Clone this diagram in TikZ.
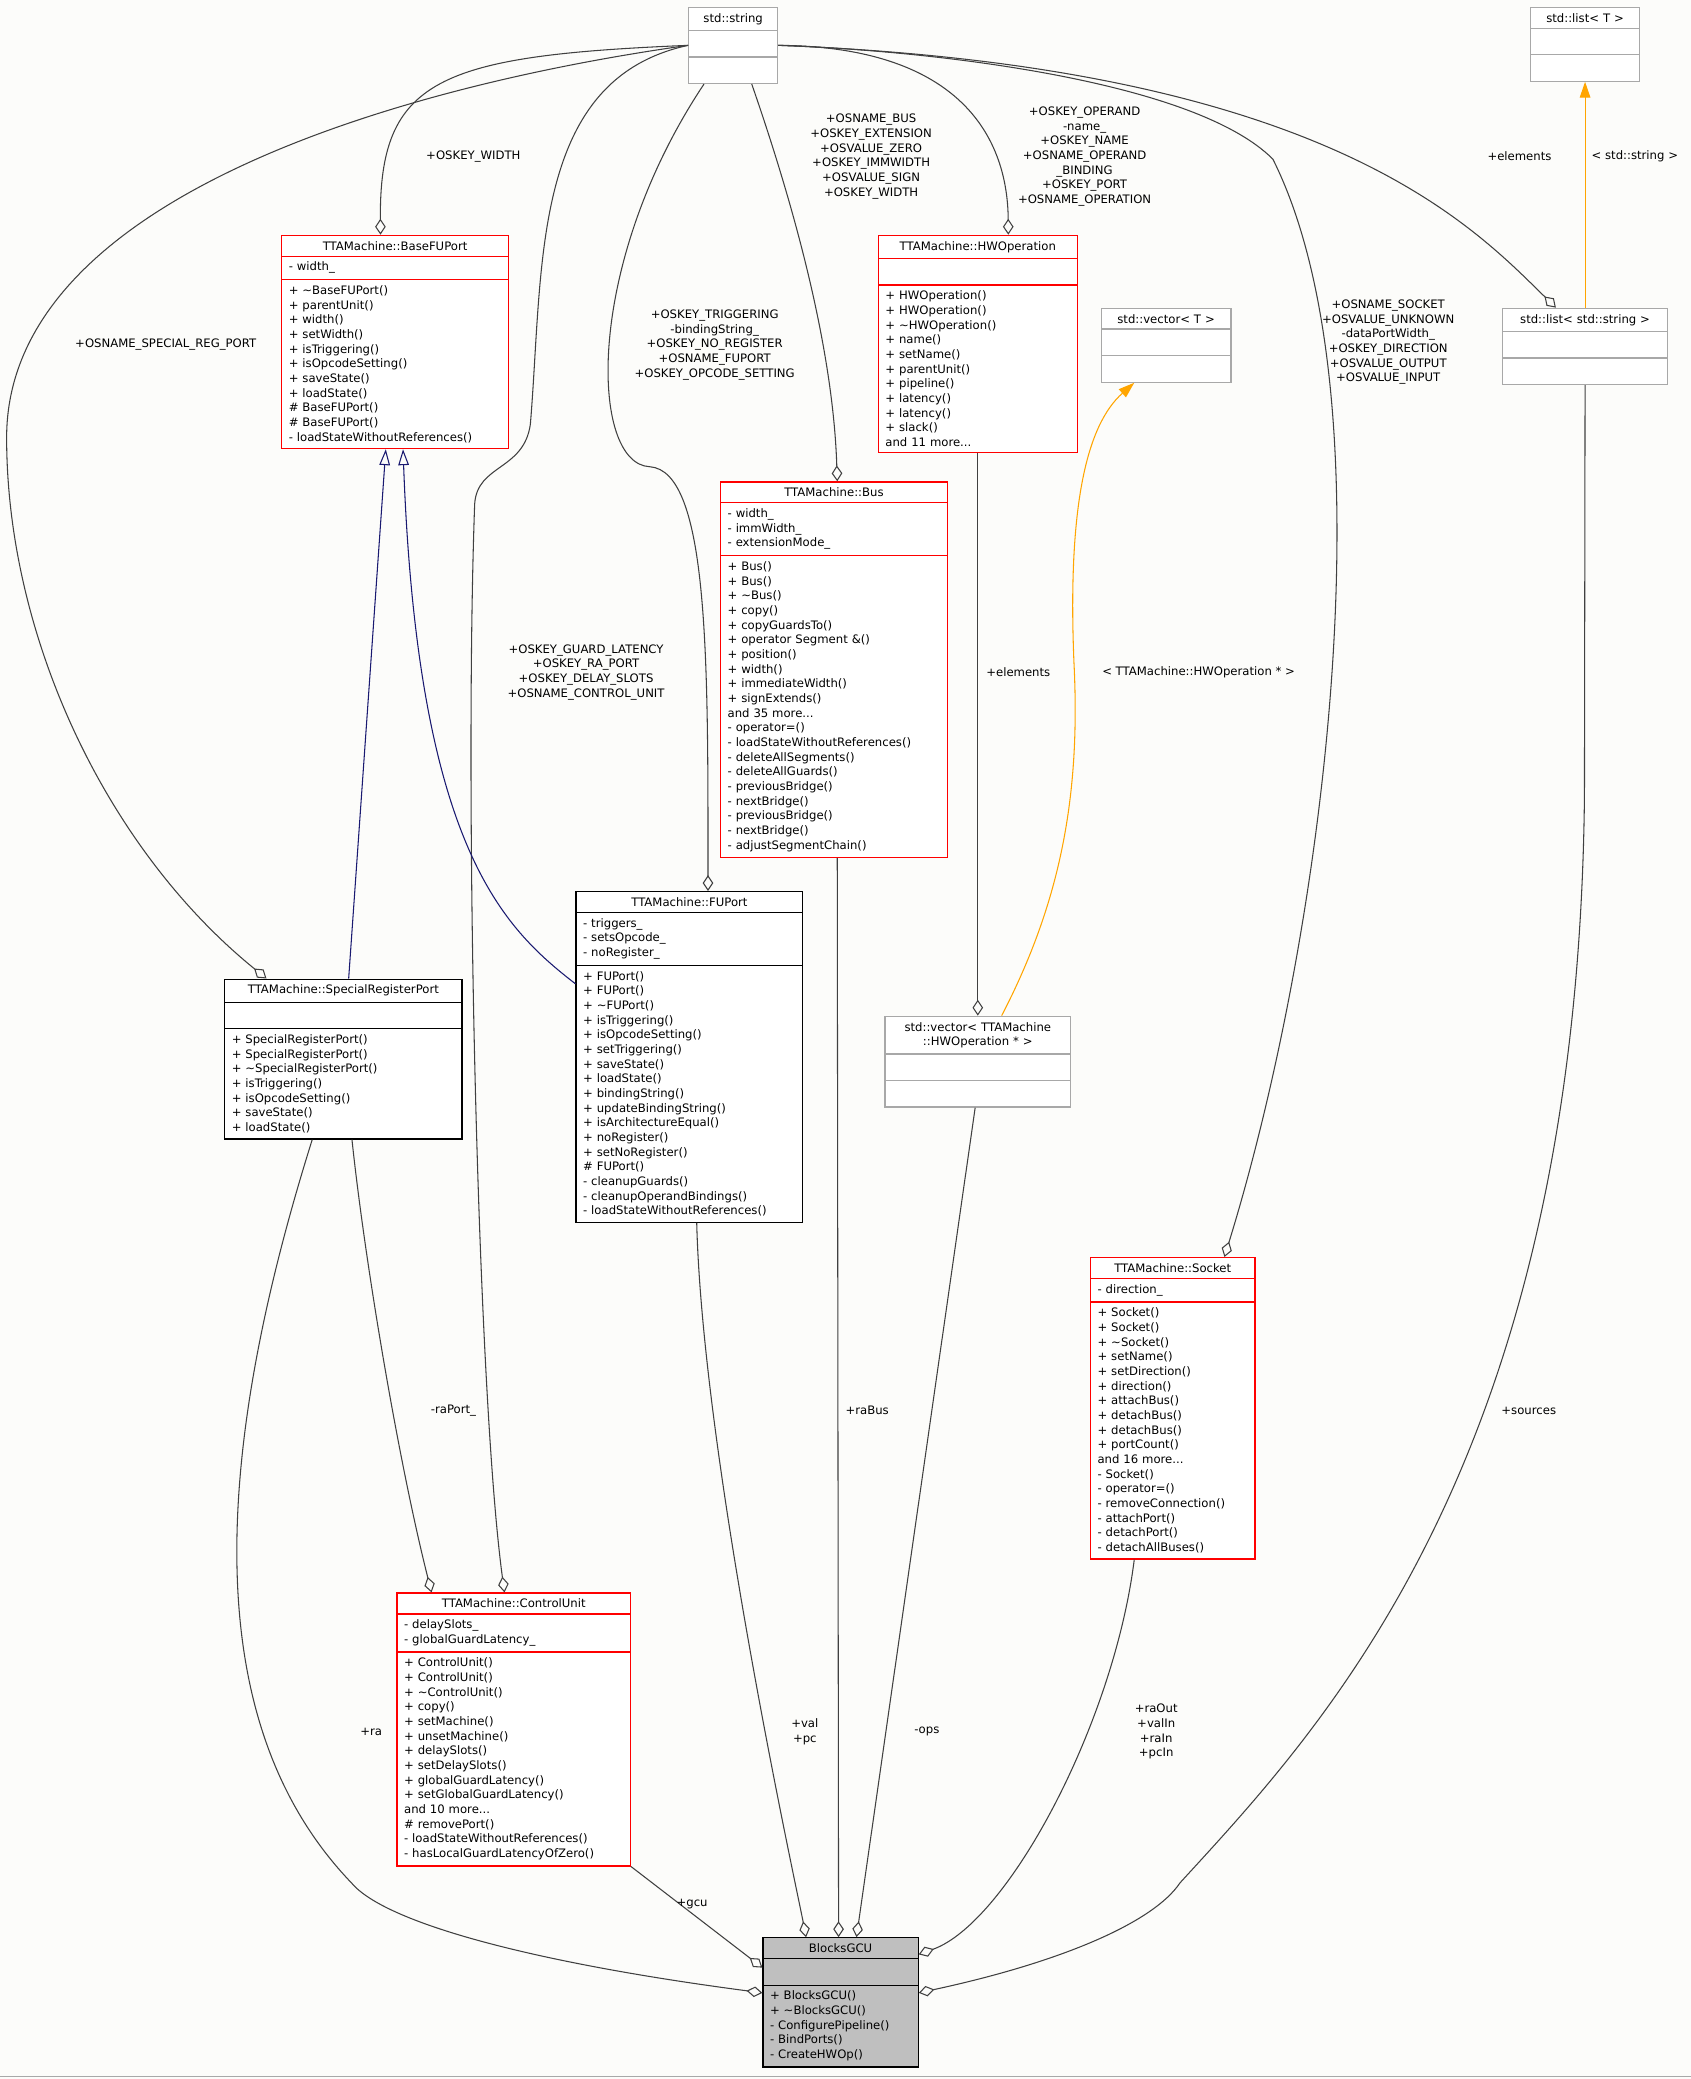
\documentclass[tikz,border=0pt]{standalone}
\usepackage{fontspec}
\setmainfont{DejaVu Sans}
\usetikzlibrary{shapes.multipart,arrows.meta,calc}
\definecolor{bg}{HTML}{FCFCFA}
\definecolor{gbox}{HTML}{A8A8A8}
\definecolor{gfill}{HTML}{BFBFBF}
\definecolor{navy}{HTML}{191970}
\definecolor{orng}{HTML}{FFA500}
\newcommand\tl{\textasciitilde}
\newcommand\cls[9]{\node[cls,draw=#5,fill=#6,text width=#4pt,anchor=north west] (#1) at (#2,#3) {\centering #7\par\nodepart{two}#8\nodepart{three}#9};}
\tikzset{
  cls/.style={rectangle split,rectangle split parts=3,inner xsep=4pt,inner ysep=3pt,align=left,line width=0.7pt,font=\fontsize{6.6}{8.3}\selectfont},
  lbl/.style={align=center,inner sep=1pt,font=\fontsize{6.6}{8.3}\selectfont},
  agg/.style={draw=black!75,line width=0.6pt,{Diamond[open,length=9pt,width=6pt]}-},
  inh/.style={draw=navy,line width=0.6pt,-{Triangle[open,length=9pt,width=6pt]}},
  tmpl/.style={draw=orng,line width=0.6pt,-{Triangle[length=9pt,width=6pt]}}
}
\begin{document}
\begin{tikzpicture}[x=0.75pt,y=-0.75pt]
\path[use as bounding box,fill=bg] (0,0) rectangle (1275,1568);
\draw[gbox,line width=0.6pt] (0,1566) -- (1275,1566);

\cls{str}{519}{5}{42.25}{gbox}{white}{std::string}{\strut}{\strut}
\cls{lT}{1154}{5}{53.5}{gbox}{white}{std::list< T >}{\strut}{\strut}
\cls{bfp}{212}{177}{120.25}{red}{white}{TTAMachine::BaseFUPort}{- width\_}{+ \tl BaseFUPort()\\+ parentUnit()\\+ width()\\+ setWidth()\\+ isTriggering()\\+ isOpcodeSetting()\\+ saveState()\\+ loadState()\\\# BaseFUPort()\\\# BaseFUPort()\\- loadStateWithoutReferences()}
\cls{hw}{662}{177}{104.5}{red}{white}{TTAMachine::HWOperation}{\strut}{+ HWOperation()\\+ HWOperation()\\+ \tl HWOperation()\\+ name()\\+ setName()\\+ parentUnit()\\+ pipeline()\\+ latency()\\+ latency()\\+ slack()\\and 11 more...}
\cls{vT}{830}{232}{65.5}{gbox}{white}{std::vector< T >}{\strut}{\strut}
\cls{ls}{1133}{232}{85}{gbox}{white}{std::list< std::string >}{\strut}{\strut}
\cls{bus}{543}{363}{120.25}{red}{white}{TTAMachine::Bus}{- width\_\\- immWidth\_\\- extensionMode\_}{+ Bus()\\+ Bus()\\+ \tl Bus()\\+ copy()\\+ copyGuardsTo()\\+ operator Segment \&()\\+ position()\\+ width()\\+ immediateWidth()\\+ signExtends()\\and 35 more...\\- operator=()\\- loadStateWithoutReferences()\\- deleteAllSegments()\\- deleteAllGuards()\\- previousBridge()\\- nextBridge()\\- previousBridge()\\- nextBridge()\\- adjustSegmentChain()}
\cls{fu}{434}{672}{120.25}{black}{white}{TTAMachine::FUPort}{- triggers\_\\- setsOpcode\_\\- noRegister\_}{+ FUPort()\\+ FUPort()\\+ \tl FUPort()\\+ isTriggering()\\+ isOpcodeSetting()\\+ setTriggering()\\+ saveState()\\+ loadState()\\+ bindingString()\\+ updateBindingString()\\+ isArchitectureEqual()\\+ noRegister()\\+ setNoRegister()\\\# FUPort()\\- cleanupGuards()\\- cleanupOperandBindings()\\- loadStateWithoutReferences()}
\cls{srp}{169}{738}{126.25}{black}{white}{TTAMachine::SpecialRegisterPort}{\strut}{+ SpecialRegisterPort()\\+ SpecialRegisterPort()\\+ \tl SpecialRegisterPort()\\+ isTriggering()\\+ isOpcodeSetting()\\+ saveState()\\+ loadState()}
\cls{vh}{667}{766}{97}{gbox}{white}{std::vector< TTAMachine\\::HWOperation * >}{\strut}{\strut}
\cls{soc}{822}{948}{85}{red}{white}{TTAMachine::Socket}{- direction\_}{+ Socket()\\+ Socket()\\+ \tl Socket()\\+ setName()\\+ setDirection()\\+ direction()\\+ attachBus()\\+ detachBus()\\+ detachBus()\\+ portCount()\\and 16 more...\\- Socket()\\- operator=()\\- removeConnection()\\- attachPort()\\- detachPort()\\- detachAllBuses()}
\cls{cu}{299}{1201}{124}{red}{white}{TTAMachine::ControlUnit}{- delaySlots\_\\- globalGuardLatency\_}{+ ControlUnit()\\+ ControlUnit()\\+ \tl ControlUnit()\\+ copy()\\+ setMachine()\\+ unsetMachine()\\+ delaySlots()\\+ setDelaySlots()\\+ globalGuardLatency()\\+ setGlobalGuardLatency()\\and 10 more...\\\# removePort()\\- loadStateWithoutReferences()\\- hasLocalGuardLatencyOfZero()}
\cls{gcu}{575}{1461}{79.75}{black}{gfill}{BlocksGCU}{\strut}{+ BlocksGCU()\\+ \tl BlocksGCU()\\- ConfigurePipeline()\\- BindPorts()\\- CreateHWOp()}

% aggregations from std::string
\draw[agg] ($(bfp.north)+(-11,0)$) .. controls (286,60) and (330,42) .. (str.west);
\draw[agg] ($(srp.north)+(-58,0)$) .. controls (80,640) and (5,480) .. (5,330) .. controls (5,150) and (300,65) .. (str.west);
\draw[agg] ($(cu.north)+(-7,0)$) .. controls (360,1050) and (350,600) .. (358,380) .. controls (360,350) and (395,355) .. (400,320) .. controls (410,200) and (400,60) .. (str.west);
\draw[agg] ($(fu.north)+(14,0)$) .. controls (534,500) and (535,355) .. (490,352) .. controls (445,350) and (440,200) .. ($(str.south)+(-22,0)$);
\draw[agg] ($(bus.north)+(2.5,0)$) .. controls (628,250) and (590,130) .. ($(str.south)+(14,0)$);
\draw[agg] ($(hw.north)+(23,0)$) .. controls (760,100) and (720,35) .. (str.east);
\draw[agg] ($(soc.north)+(39,0)$) .. controls (1000,700) and (1050,300) .. (960,120) .. controls (900,60) and (700,38) .. (str.east);
\draw[agg] ($(ls.north)+(-22,0)$) .. controls (1110,170) and (1000,50) .. (str.east);
% templates
\draw[tmpl] (ls.north) -- (lT.south);
\draw[tmpl] ($(vh.north)+(18,0)$) .. controls (800,680) and (815,600) .. (810,500) .. controls (805,380) and (820,320) .. ($(vT.south)+(-24,0)$);
\draw[agg] (vh.north) -- (hw.south);
% inheritance
\draw[inh] ($(srp.north)+(4,0)$) -- ($(bfp.south)+(-7,0)$);
\draw[inh] ($(fu.north west)+(0,70)$) .. controls (380,700) and (315,640) .. ($(bfp.south)+(6,0)$);
% to ControlUnit
\draw[agg] ($(cu.north)+(-62,0)$) .. controls (300,1100) and (275,950) .. ($(srp.south)+(6.5,0)$);
% to BlocksGCU
\draw[agg] ($(gcu.north west)+(0,42)$) .. controls (400,1480) and (290,1450) .. (265,1420) .. controls (150,1300) and (160,1100) .. ($(srp.south)+(-23.5,0)$);
\draw[agg] ($(gcu.north west)+(0,23)$) -- (cu.south east);
\draw[agg] ($(gcu.north)+(-26,0)$) .. controls (600,1420) and (530,1100) .. ($(fu.south)+(5.5,0)$);
\draw[agg] ($(gcu.north)+(-1.5,0)$) -- ($(bus.south)+(2.5,0)$);
\draw[agg] ($(gcu.north)+(12,0)$) -- ($(vh.south)+(-2,0)$);
\draw[agg] ($(gcu.north east)+(0,13)$) .. controls (760,1450) and (840,1300) .. ($(soc.south)+(-29,0)$);
\draw[agg] ($(gcu.north east)+(0,42)$) .. controls (800,1480) and (870,1450) .. (890,1420) .. controls (1000,1300) and (1190,1100) .. (1195,600) -- (ls.south);

% labels
\node[lbl] (l1) at (357,118) {+OSKEY\_WIDTH};
\node[lbl] (l2) at (125,260) {+OSNAME\_SPECIAL\_REG\_PORT};
\node[lbl] (l3) at (539,260) {+OSKEY\_TRIGGERING\\-bindingString\_\\+OSKEY\_NO\_REGISTER\\+OSNAME\_FUPORT\\+OSKEY\_OPCODE\_SETTING};
\node[lbl] (l4) at (657,118) {+OSNAME\_BUS\\+OSKEY\_EXTENSION\\+OSVALUE\_ZERO\\+OSKEY\_IMMWIDTH\\+OSVALUE\_SIGN\\+OSKEY\_WIDTH};
\node[lbl] (l5) at (818,118) {+OSKEY\_OPERAND\\-name\_\\+OSKEY\_NAME\\+OSNAME\_OPERAND\\\_BINDING\\+OSKEY\_PORT\\+OSNAME\_OPERATION};
\node[lbl] (l6) at (1047,258) {+OSNAME\_SOCKET\\+OSVALUE\_UNKNOWN\\-dataPortWidth\_\\+OSKEY\_DIRECTION\\+OSVALUE\_OUTPUT\\+OSVALUE\_INPUT};
\node[lbl] (l7) at (1146,118) {+elements};
\node[lbl] (l8) at (1233,118) {< std::string >};
\node[lbl] (l9) at (442,507) {+OSKEY\_GUARD\_LATENCY\\+OSKEY\_RA\_PORT\\+OSKEY\_DELAY\_SLOTS\\+OSNAME\_CONTROL\_UNIT};
\node[lbl] (l10) at (768,507) {+elements};
\node[lbl] (l11) at (904,507) {< TTAMachine::HWOperation * >};
\node[lbl] (l12) at (342,1064) {-raPort\_};
\node[lbl] (l13) at (654,1064) {+raBus};
\node[lbl] (l14) at (1153,1064) {+sources};
\node[lbl] (l15) at (280,1306) {+ra};
\node[lbl] (l16) at (607,1306) {+val\\+pc};
\node[lbl] (l17) at (699,1306) {-ops};
\node[lbl] (l18) at (872,1306) {+raOut\\+valIn\\+raIn\\+pcIn};
\node[lbl] (l19) at (522,1436) {+gcu};
\end{tikzpicture}
\end{document}
